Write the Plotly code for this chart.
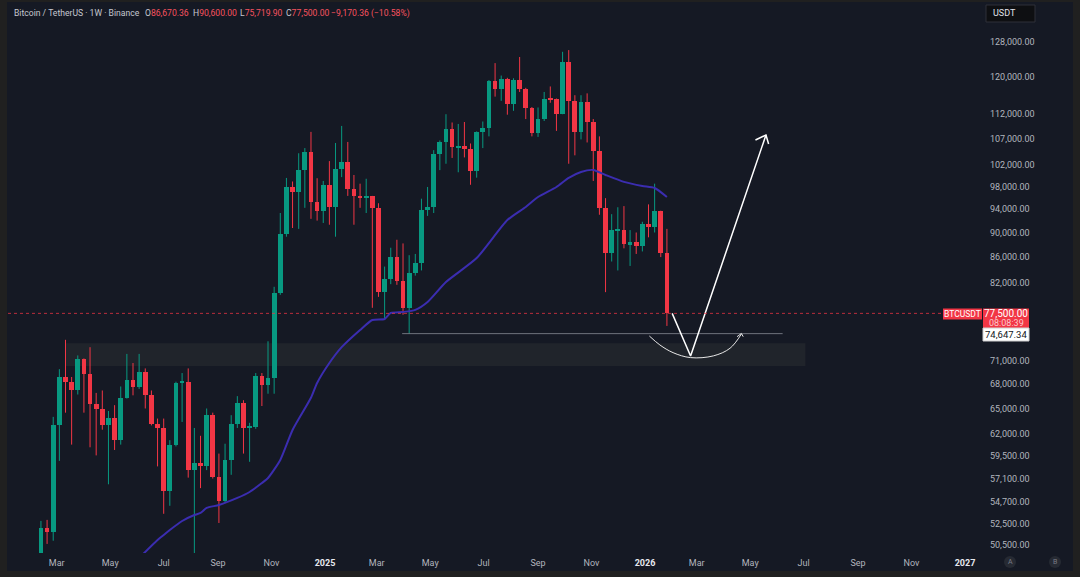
import pandas as pd
import plotly.graph_objects as go

# ---------------- data ----------------
start_week = "2024-02-12"
opens = [48300, 52100, 51700, 63100, 68900, 68300, 67200, 71250, 69300, 65600,
         64900, 63100, 63900, 61300, 66300, 68500, 67600, 69600, 66600, 63200,
         62700, 55800, 60800, 68150, 68250, 58000, 58750, 58450, 64200, 57300,
         54800, 59100, 63200, 65700, 62700, 62850, 69000, 67900, 68800, 80450,
         89750, 97900, 97000, 101000, 104400, 95200, 93600, 98300, 94400, 101200,
         102500, 97500, 96300, 96100, 96250, 94200, 80600, 82600, 86000, 82300,
         78300, 83500, 85100, 93800, 94300, 104100, 106400, 108900, 105400, 105700,
         105000, 100900, 108400, 109200, 119100, 117300, 119500, 114200, 119300, 117400,
         113300, 108200, 111000, 115200, 115100, 112100, 123300, 114800, 108400, 114500,
         110400, 104600, 94200, 86700, 90400, 90450, 88100, 88400, 87700, 91400,
         90900, 93600, 86670]
highs = [52800, 52900, 64000, 69900, 73800, 68900, 71700, 71300, 72800, 66900,
         67200, 64700, 65400, 67700, 71900, 70700, 71900, 70000, 67200, 63800,
         63800, 61300, 68300, 69400, 70000, 62700, 61800, 65000, 64500, 59800,
         60900, 64200, 66500, 66000, 63300, 69400, 69400, 73600, 81400, 93300,
         99550, 98900, 104200, 105200, 108400, 99500, 99000, 102700, 106200, 109600,
         106400, 100100, 98500, 99400, 96300, 95000, 84500, 87500, 88800, 88200,
         86300, 86500, 95800, 97900, 104800, 106700, 112000, 110300, 110000, 110400,
         106100, 108500, 110500, 119300, 123100, 120300, 119800, 119700, 124500, 117600,
         113500, 113400, 116700, 117900, 115300, 125700, 126100, 116000, 116000, 116400,
         111000, 107500, 95900, 93100, 94300, 94500, 90400, 90000, 91800, 94800,
         98500, 93700, 90600]
lows = [47700, 50600, 50900, 59000, 64500, 60800, 66700, 64500, 60500, 59600,
        62500, 56500, 60200, 60800, 66200, 66600, 67400, 65000, 63000, 58400,
        53500, 54300, 60600, 63400, 57200, 49000, 56100, 58000, 57100, 52600,
        54600, 57500, 62700, 59800, 58900, 62600, 65300, 66800, 66800, 80200,
        89300, 90750, 90600, 94200, 92300, 92000, 91600, 91300, 89300, 99700,
        96300, 91300, 94200, 93300, 78300, 79900, 76600, 81800, 81700, 77300,
        74600, 83100, 83900, 92800, 93300, 101000, 102200, 103300, 100600, 103400,
        98300, 99600, 105200, 107500, 115700, 114800, 111900, 112700, 116700, 111000,
        107500, 107400, 110600, 114400, 108600, 112000, 102200, 103800, 106900, 106300,
        99000, 93000, 80600, 85300, 83900, 87400, 84600, 86500, 86900, 89200,
        90000, 86000, 75720]
closes = [52100, 51700, 63100, 68900, 68300, 67200, 71250, 69300, 65600, 64900,
          63100, 63900, 61300, 66300, 68500, 67600, 69600, 66600, 63200, 62700,
          55800, 60800, 68150, 68250, 58000, 58750, 58450, 64200, 57300, 54800,
          59100, 63200, 65700, 62700, 62850, 69000, 67900, 68800, 80450, 89750,
          97900, 97000, 101000, 104400, 95200, 93600, 98300, 94400, 101200, 102500,
          97500, 96300, 96100, 96250, 94200, 80600, 82600, 86000, 82300, 78300,
          83500, 85100, 93800, 94300, 104100, 106400, 108900, 105400, 105700, 105000,
          100900, 108400, 109200, 119100, 117300, 119500, 114200, 119300, 117400, 113300,
          108200, 111000, 115200, 115100, 112100, 123300, 114800, 108400, 114500, 110400,
          104600, 94200, 86700, 90400, 90450, 88100, 88400, 87700, 91400, 90900,
          93600, 86670, 77500]

# moving average line, sampled at candle numbers (1-based)
ma_idx = [17, 20, 21, 22, 24, 26, 27, 28, 30, 33, 35, 37, 38, 40, 42, 45, 46, 48, 50,
          53, 55, 57, 58, 60, 62, 64, 67, 72, 77, 80, 82, 85, 87, 89, 91, 93, 96, 99,
          101, 103]
ma_val = [49300, 50970, 51440, 51920, 52790, 53380, 53580, 54080, 54380, 55090, 55700,
          56630, 57160, 59100, 62470, 66300, 68140, 70700, 72800, 75150, 76560, 76700,
          77560, 77700, 78000, 79150, 82130, 85840, 92100, 94350, 96100, 97900, 99560,
          100660, 101030, 100100, 98830, 98080, 97720, 96100]

# drawings
zone_dates = ["2024-03-11", "2026-07-03"]
zone_prices = [70300, 73330]
level_dates = ["2025-03-30", "2026-06-07"]
level_price = 74647.34
path_dates = ["2026-02-01", "2026-02-22", "2026-05-19"]
path_prices = [77500, 71630, 107780]
head_dates = ["2026-05-07", "2026-05-19", "2026-05-22"]
head_prices = [106790, 107780, 106000]
arc_dates = ["2026-01-06", "2026-01-18", "2026-02-02", "2026-02-22", "2026-03-20",
             "2026-04-08", "2026-04-21"]
arc_prices = [74320, 73100, 72070, 71410, 71640, 72660, 74600]
arc_head_dates = ["2026-04-16", "2026-04-21", "2026-04-23"]
arc_head_prices = [74230, 74670, 74230]

last_price = 77500

header_title = "Bitcoin / TetherUS · 1W · Binance"
header_keys = ["O", "H", "L", "C"]
header_vals = ["86,670.36", "90,600.00", "75,719.90", "77,500.00"]
header_change = "−9,170.36 (−10.58%)"

y_ticks = [128000, 120000, 112000, 107000, 102000, 98000, 94000, 90000, 86000, 82000,
           71000, 68000, 65000, 62000, 59500, 57100, 54700, 52500, 50500]
x_tick_dates = ["2024-03-01", "2024-05-01", "2024-07-01", "2024-09-01", "2024-11-01",
                "2025-01-01", "2025-03-01", "2025-05-01", "2025-07-01", "2025-09-01",
                "2025-11-01", "2026-01-01", "2026-03-01", "2026-05-01", "2026-07-01",
                "2026-09-01", "2026-11-01", "2027-01-01"]
x_tick_labels = ["Mar", "May", "Jul", "Sep", "Nov", "2025", "Mar", "May", "Jul", "Sep",
                 "Nov", "2026", "Mar", "May", "Jul", "Sep", "Nov", "2027"]

# ---------------- styling ----------------
BG = "#151924"
FRAME = "#202020"
UP = "#089981"
DN = "#f23645"
TXT = "#b2b5be"
FONT = "Roboto, Liberation Sans, Arial"

W, H = 1080, 577
L_PX, R_PX, T_PX, B_PX = 8, 975, 4, 553


def px(x):
    return (x - L_PX) / (R_PX - L_PX)


def py(y):
    return (B_PX - y) / (B_PX - T_PX)


dates = pd.date_range(start_week, periods=len(closes), freq="7D")
ma_dates = [dates[i - 1] for i in ma_idx]

fig = go.Figure()

# wicks
for col, up in ((UP, True), (DN, False)):
    xs, ys = [], []
    for d, o, h, l, c in zip(dates, opens, highs, lows, closes):
        if (c >= o) == up:
            xs += [d, d, None]
            ys += [l, h, None]
    fig.add_trace(go.Scatter(x=xs, y=ys, mode="lines", line=dict(color=col, width=1),
                             hoverinfo="skip", showlegend=False))

# bodies
base = [min(o, c) for o, c in zip(opens, closes)]
height = [max(abs(c - o), 0.002 * c) for o, c in zip(opens, closes)]
colors = [UP if c >= o else DN for o, c in zip(opens, closes)]
fig.add_trace(go.Bar(x=dates, y=height, base=base, marker=dict(color=colors, line=dict(width=0)),
                     width=5.4 * 86400000, showlegend=False, hoverinfo="skip"))

# moving average
fig.add_trace(go.Scatter(x=ma_dates, y=ma_val, mode="lines",
                         line=dict(color="#3b2db0", width=2, shape="spline", smoothing=0.6),
                         showlegend=False, hoverinfo="skip"))

# drawings
fig.add_trace(go.Scatter(x=level_dates, y=[level_price, level_price], mode="lines",
                         line=dict(color="#6f737d", width=1), showlegend=False, hoverinfo="skip"))
fig.add_trace(go.Scatter(x=path_dates, y=path_prices, mode="lines",
                         line=dict(color="#ffffff", width=1.5), showlegend=False, hoverinfo="skip"))
fig.add_trace(go.Scatter(x=head_dates, y=head_prices, mode="lines",
                         line=dict(color="#ffffff", width=1.5), showlegend=False, hoverinfo="skip"))
fig.add_trace(go.Scatter(x=arc_dates, y=arc_prices, mode="lines",
                         line=dict(color="#e8e8e8", width=1, shape="spline"), showlegend=False,
                         hoverinfo="skip"))
fig.add_trace(go.Scatter(x=arc_head_dates, y=arc_head_prices, mode="lines",
                         line=dict(color="#e8e8e8", width=1), showlegend=False, hoverinfo="skip"))

shapes = []
# background panel + frame
shapes.append(dict(type="rect", xref="paper", yref="paper", x0=px(7), x1=px(1073),
                   y0=py(571), y1=py(2), fillcolor=BG, line=dict(width=0), layer="below"))
# zone rectangle
shapes.append(dict(type="rect", xref="x", yref="y", x0=zone_dates[0], x1=zone_dates[1],
                   y0=zone_prices[0], y1=zone_prices[1], fillcolor="rgba(80,82,76,0.2)",
                   line=dict(width=0), layer="below"))
# last price dotted line
shapes.append(dict(type="line", xref="paper", yref="y", x0=0, x1=px(943), y0=last_price,
                   y1=last_price, line=dict(color="rgba(242,54,69,0.75)", width=1, dash="dot")))
# price labels
shapes.append(dict(type="rect", xref="paper", yref="paper", x0=px(943), x1=px(982),
                   y0=py(319.5), y1=py(308.5), fillcolor=DN, line=dict(width=0)))
shapes.append(dict(type="rect", xref="paper", yref="paper", x0=px(983), x1=px(1029),
                   y0=py(328), y1=py(308.5), fillcolor=DN, line=dict(width=0)))
shapes.append(dict(type="rect", xref="paper", yref="paper", x0=px(983), x1=px(1029),
                   y0=py(341), y1=py(328), fillcolor="#ffffff", line=dict(color="#d0d0d0", width=1)))
# USDT box
shapes.append(dict(type="rect", xref="paper", yref="paper", x0=px(986), x1=px(1035),
                   y0=py(22), y1=py(5), fillcolor="#0e0f12", line=dict(color="#2e3038", width=1)))
# A / B circles
for cx in (1010, 1055):
    shapes.append(dict(type="circle", xref="paper", yref="paper", x0=px(cx - 6), x1=px(cx + 6),
                       y0=py(568), y1=py(556), fillcolor="#262a33", line=dict(width=0)))

ann = []
ann.append(dict(xref="paper", yref="paper", x=px(12), y=py(13), text=header_title, showarrow=False,
                xanchor="left", yanchor="middle", font=dict(size=8.6, family=FONT, color="#c5c8d0")))
for xp, k, v in zip((143, 191, 238, 284), header_keys, header_vals):
    ann.append(dict(xref="paper", yref="paper", x=px(xp), y=py(13),
                    text=f"<span style='color:#c5c8d0'>{k}</span><span style='color:#f7525f'>{v}</span>",
                    showarrow=False, xanchor="left", yanchor="middle", font=dict(size=8.6, family=FONT)))
ann.append(dict(xref="paper", yref="paper", x=px(329), y=py(13), text=header_change, showarrow=False,
                xanchor="left", yanchor="middle", font=dict(size=8.6, family=FONT, color="#f7525f")))
ann.append(dict(xref="paper", yref="paper", x=px(991), y=py(13.5), text="USDT", showarrow=False,
                xanchor="left", yanchor="middle", font=dict(size=9, color="#e0e3eb", family=FONT)))
ann.append(dict(xref="paper", yref="paper", x=px(962.5), y=py(314), text="BTCUSDT", showarrow=False,
                xanchor="center", yanchor="middle", font=dict(size=8.5, color="#ffffff", family=FONT)))
ann.append(dict(xref="paper", yref="paper", x=px(1006), y=py(313.5), text="77,500.00", showarrow=False,
                xanchor="center", yanchor="middle", font=dict(size=10, color="#ffffff", family=FONT)))
ann.append(dict(xref="paper", yref="paper", x=px(1006), y=py(323), text="08:08:39", showarrow=False,
                xanchor="center", yanchor="middle", font=dict(size=9, color="#fcc9ce", family=FONT)))
ann.append(dict(xref="paper", yref="paper", x=px(1006), y=py(334.5), text="74,647.34", showarrow=False,
                xanchor="center", yanchor="middle", font=dict(size=9.5, color="#131722", family=FONT)))
for cx, t in ((1010, "A"), (1055, "B")):
    ann.append(dict(xref="paper", yref="paper", x=px(cx), y=py(562), text=t, showarrow=False,
                    xanchor="center", yanchor="middle", font=dict(size=7, color="#787b86", family=FONT)))

tick_text = []
for t in x_tick_labels:
    if t.isdigit():
        tick_text.append(f"<span style='color:#e6e8ee'><b>{t}</b></span>")
    else:
        tick_text.append(t)

fig.update_layout(
    width=W, height=H,
    margin=dict(l=L_PX, r=W - R_PX, t=T_PX, b=H - B_PX),
    paper_bgcolor=FRAME, plot_bgcolor=BG,
    barmode="overlay", bargap=0,
    shapes=shapes, annotations=ann,
    font=dict(family=FONT, color=TXT, size=9),
    xaxis=dict(type="date", range=["2024-01-05 10:00", "2027-01-12 10:00"],
               tickvals=x_tick_dates, ticktext=tick_text, showgrid=False, zeroline=False,
               showline=False, ticks="", ticklabelstandoff=3, tickfont=dict(size=9, color=TXT)),
    yaxis=dict(type="log", range=[4.69687, 5.13772], side="right", tickvals=y_ticks,
               ticktext=[f"{v:,.2f}" for v in y_ticks], showgrid=False, zeroline=False,
               showline=False, ticks="", ticklabelstandoff=14, tickfont=dict(size=9, color=TXT)),
)

fig.write_html("out.html", config={"displayModeBar": False},
               post_script="document.body.style.margin='0';document.body.style.overflow='hidden';")
